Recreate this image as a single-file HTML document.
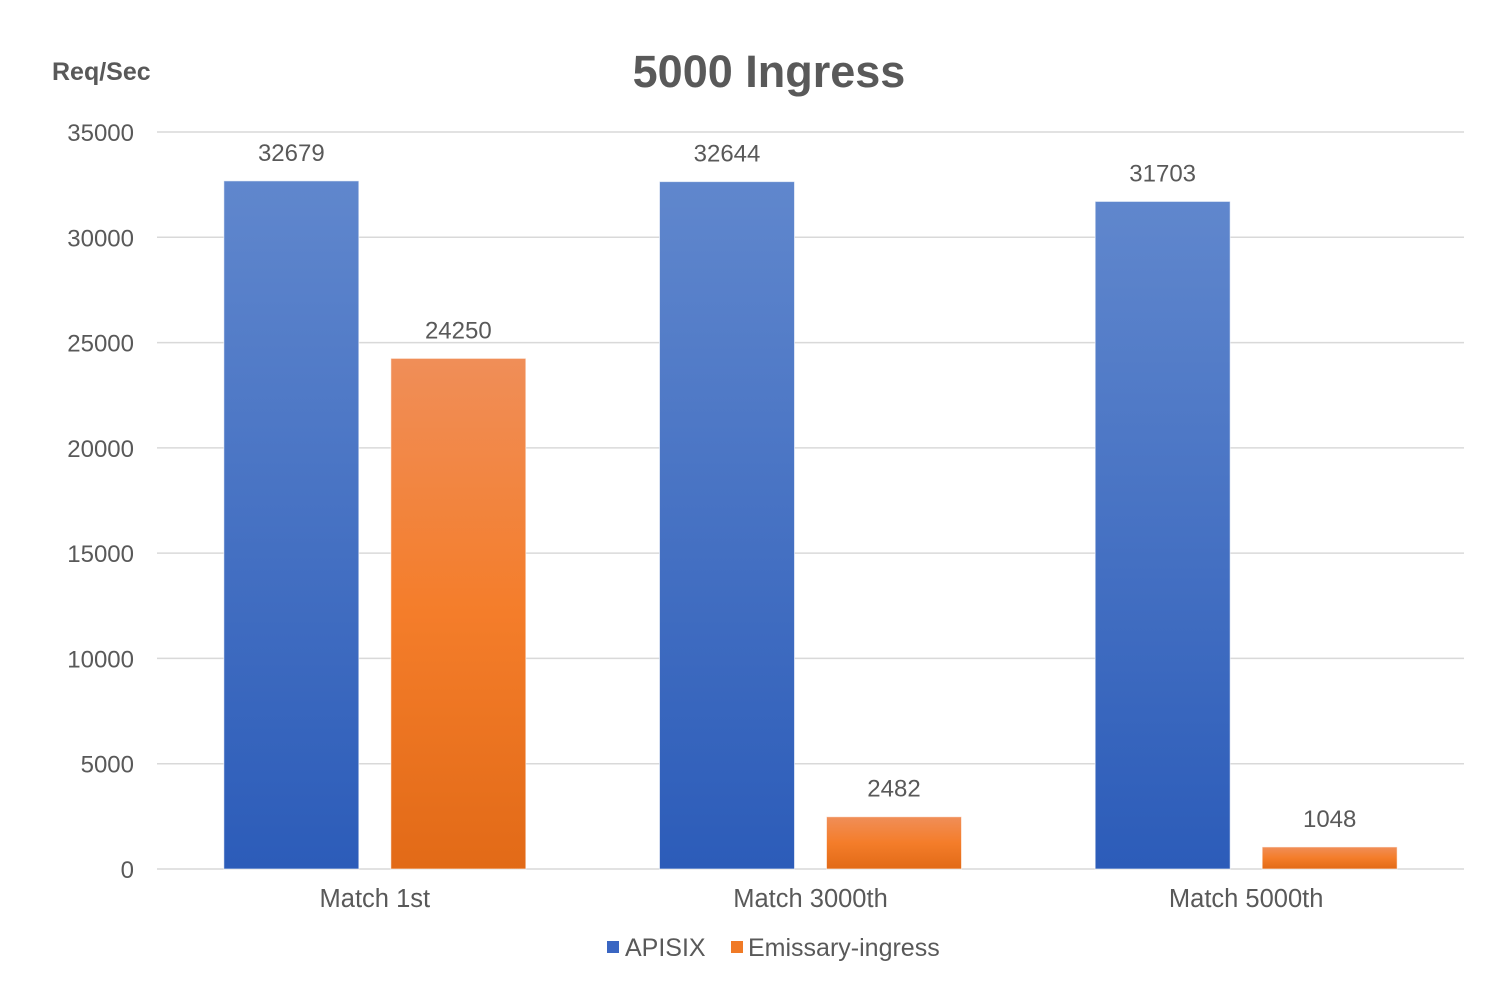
<!DOCTYPE html>
<html><head><meta charset="utf-8"><style>
body{margin:0;background:#fff;}
svg text{font-family:"Liberation Sans","DejaVu Sans",sans-serif;fill:#595959;}
</style></head><body>
<svg id="chart" width="1501" height="991" viewBox="0 0 1501 991" xmlns="http://www.w3.org/2000/svg">
<defs>
<linearGradient id="gb" x1="0" y1="0" x2="0" y2="1"><stop offset="0" stop-color="#6087cd"/><stop offset="1" stop-color="#2c5cb9"/></linearGradient>
<linearGradient id="go" x1="0" y1="0" x2="0" y2="1"><stop offset="0" stop-color="#f08e58"/><stop offset="0.5" stop-color="#f47d2a"/><stop offset="1" stop-color="#e26a17"/></linearGradient>
</defs>
<text x="769" y="87" text-anchor="middle" font-size="45" font-weight="bold">5000 Ingress</text>
<text x="52" y="80" font-size="25" font-weight="bold">Req/Sec</text>
<g id="grid"></g><g id="bars"></g><g id="labels"></g>
<g>
<rect x="607" y="941" width="12" height="12" fill="#3a66c2"/>
<text x="625" y="956" font-size="25">APISIX</text>
<rect x="731" y="941" width="12" height="12" fill="#f07a26"/>
<text x="748" y="956" font-size="25">Emissary-ingress</text>
</g>
</svg>
<script>
const categories=["Match 1st","Match 3000th","Match 5000th"];
const apisix=[32679,32644,31703];
const emissary=[24250,2482,1048];
const yTicks=[0,5000,10000,15000,20000,25000,30000,35000];
const NS="http://www.w3.org/2000/svg";
const L=157,R=1464,Y0=869,Y1=132,MAX=35000;
const y=v=>Y0-(v/MAX)*(Y0-Y1);
const cw=(R-L)/categories.length;
const cx=i=>L+cw*(i+0.5);
function mk(tag,attrs,parent,txt){const e=document.createElementNS(NS,tag);for(const k in attrs)e.setAttribute(k,attrs[k]);if(txt!==undefined)e.textContent=txt;document.getElementById(parent).appendChild(e);return e;}
yTicks.forEach(t=>{
 const l=mk('line',{x1:L,x2:R,y1:y(t),y2:y(t),stroke:'#d9d9d9','stroke-width':1.5},'grid');
 
 
 const tx=mk('text',{x:134,y:y(t)+9,'text-anchor':'end','font-size':24},'grid',t);
 
 
});
const bw=135,gap=32;
categories.forEach((c,i)=>{
 [[apisix,'url(#gb)',-1,'apisix'],[emissary,'url(#go)',1,'emissary']].forEach(([arr,fill,s,nm])=>{
  const bx=cx(i)+s*(gap/2+bw/2)-bw/2;
  const r=mk('rect',{x:bx,y:y(arr[i]),width:bw,height:Y0-y(arr[i]),fill:fill,stroke:'#ffffff','stroke-opacity':0.6,'stroke-width':1},'bars');
  
  
  const v=mk('text',{x:bx+bw/2,y:y(arr[i])-20,'text-anchor':'middle','font-size':24},'labels',arr[i]);
  
  
 });
 const t=mk('text',{x:cx(i),y:907,'text-anchor':'middle','font-size':25.5},'labels',c);
 
 
});
</script>
</body></html>
